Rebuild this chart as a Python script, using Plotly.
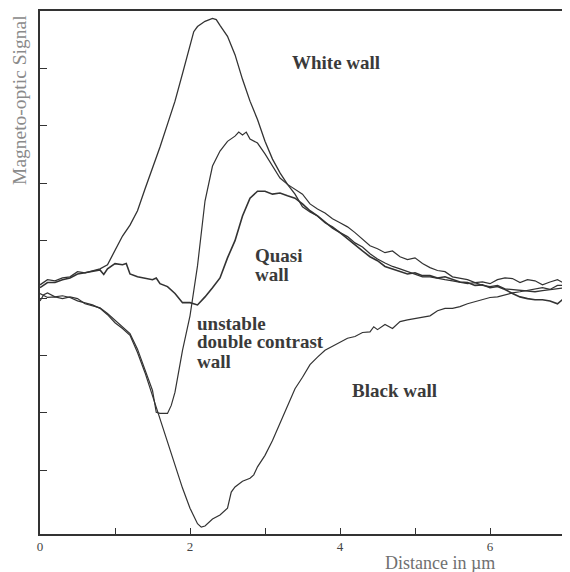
import plotly.graph_objects as go

# ---------------- data (x in µm, signal in arbitrary units) ----------------
white_x = [0.00,0.10,0.20,0.30,0.40,0.50,0.60,0.70,0.80,0.90,1.00,1.10,1.20,1.30,1.40,1.50,1.60,1.70,1.80,1.90,
           2.00,2.05,2.10,2.20,2.30,2.35,2.40,2.50,2.60,2.70,2.80,2.90,3.00,3.10,3.20,3.30,3.40,3.50,3.60,3.70,
           3.80,3.90,4.00,4.10,4.20,4.30,4.40,4.50,4.60,4.70,4.80,4.90,5.00,5.10,5.20,5.30,5.40,5.50,5.60,5.70,
           5.80,5.90,6.00,6.10,6.20,6.30,6.40,6.50,6.60,6.70,6.80,6.90,7.00]
white_y = [0.23,0.32,0.30,0.35,0.37,0.46,0.44,0.48,0.51,0.58,0.82,1.08,1.27,1.52,1.90,2.25,2.63,3.03,3.43,3.91,
           4.38,4.64,4.73,4.82,4.87,4.85,4.75,4.56,4.24,3.81,3.43,3.11,2.73,2.42,2.18,1.98,1.81,1.59,1.50,1.43,
           1.31,1.24,1.14,1.07,0.96,0.89,0.77,0.68,0.61,0.55,0.51,0.46,0.42,0.37,0.37,0.34,0.32,0.30,0.28,0.25,
           0.27,0.22,0.20,0.22,0.16,0.15,0.13,0.13,0.11,0.13,0.15,0.16,0.18]

quasi_x = [0.00,0.10,0.20,0.30,0.40,0.50,0.60,0.70,0.80,0.85,0.90,1.00,1.10,1.15,1.20,1.30,1.40,1.50,1.55,1.60,
           1.70,1.80,1.90,2.00,2.10,2.20,2.30,2.40,2.50,2.60,2.70,2.80,2.90,3.00,3.10,3.20,3.30,3.40,3.50,3.60,
           3.70,3.80,3.90,4.00,4.10,4.20,4.30,4.40,4.50,4.60,4.70,4.80,4.90,5.00,5.10,5.20,5.30,5.40,5.50,5.60,
           5.70,5.80,5.90,6.00,6.10,6.20,6.30,6.40,6.50,6.60,6.70,6.80,6.90,7.00]
quasi_y = [0.18,0.27,0.27,0.32,0.35,0.42,0.44,0.46,0.49,0.41,0.51,0.60,0.58,0.60,0.42,0.37,0.35,0.32,0.35,0.25,
           0.20,0.08,-0.08,-0.08,-0.12,0.02,0.18,0.35,0.70,1.00,1.43,1.74,1.86,1.86,1.81,1.83,1.78,1.74,1.64,1.52,
           1.43,1.33,1.22,1.14,1.03,0.93,0.82,0.72,0.65,0.55,0.51,0.46,0.42,0.44,0.39,0.39,0.35,0.37,0.32,0.28,
           0.27,0.22,0.23,0.18,0.20,0.15,0.08,0.02,-0.01,-0.03,-0.03,-0.05,-0.10,0.01]

unstable_x = [0.00,0.10,0.20,0.30,0.40,0.50,0.60,0.70,0.80,0.90,1.00,1.10,1.20,1.30,1.40,1.50,1.55,1.60,1.70,1.75,
              1.80,1.85,1.90,2.00,2.10,2.20,2.30,2.40,2.50,2.60,2.65,2.70,2.75,2.80,2.90,3.00,3.10,3.20,3.30,3.40,
              3.50,3.60,3.70,3.80,3.90,4.00,4.10,4.20,4.30,4.40,4.50,4.60,4.70,4.80,4.90,5.00,5.10,5.20,5.30,5.40,
              5.50,5.60,5.70,5.80,5.90,6.00,6.10,6.20,6.30,6.40,6.50,6.60,6.70,6.80,6.90,7.00]
unstable_y = [0.08,0.01,0.02,-0.01,0.02,-0.01,-0.10,-0.13,-0.17,-0.27,-0.39,-0.51,-0.62,-0.89,-1.26,-1.61,-1.99,-2.01,-2.01,-1.87,
              -1.64,-1.29,-0.91,-0.31,0.56,1.69,2.30,2.56,2.73,2.82,2.89,2.84,2.89,2.77,2.70,2.51,2.30,2.09,1.98,1.90,
              1.81,1.64,1.55,1.48,1.38,1.31,1.24,1.14,1.03,0.91,0.86,0.79,0.82,0.72,0.67,0.70,0.60,0.53,0.48,0.46,
              0.37,0.34,0.32,0.27,0.28,0.25,0.32,0.35,0.34,0.27,0.32,0.30,0.23,0.28,0.32,0.25]

black_x = [0.00,0.05,0.10,0.20,0.30,0.40,0.50,0.60,0.70,0.80,0.90,1.00,1.10,1.20,1.30,1.40,1.50,1.60,1.70,1.80,
           1.90,2.00,2.10,2.15,2.20,2.30,2.40,2.50,2.55,2.60,2.70,2.80,2.85,2.90,3.00,3.10,3.20,3.30,3.40,3.50,
           3.60,3.70,3.80,3.90,4.00,4.10,4.20,4.30,4.40,4.45,4.50,4.60,4.70,4.80,4.90,5.00,5.10,5.20,5.30,5.40,
           5.50,5.60,5.70,5.80,5.90,6.00,6.10,6.20,6.30,6.40,6.50,6.60,6.70,6.80,6.90,7.00]
black_y = [-0.05,0.06,0.09,0.02,0.04,0.01,-0.05,-0.08,-0.12,-0.18,-0.29,-0.43,-0.53,-0.65,-0.95,-1.30,-1.70,-2.13,-2.51,-2.91,
           -3.31,-3.66,-3.93,-3.99,-3.97,-3.85,-3.78,-3.66,-3.38,-3.29,-3.19,-3.14,-3.08,-2.94,-2.74,-2.48,-2.18,-1.89,-1.58,-1.38,
           -1.16,-1.03,-0.91,-0.84,-0.77,-0.70,-0.67,-0.60,-0.59,-0.50,-0.55,-0.46,-0.53,-0.41,-0.38,-0.36,-0.33,-0.31,-0.22,-0.18,
           -0.18,-0.15,-0.10,-0.06,-0.03,0.01,0.02,0.06,0.09,0.11,0.13,0.15,0.18,0.15,0.22,0.22]

x_tick_vals = [0, 1, 2, 3, 4, 5, 6, 7]
x_tick_text = ["0", "", "2", "", "4", "", "6", ""]
y_tick_vals = [-3, -2, -1, 0, 1, 2, 3, 4]

LINE = "#333333"
SERIF = "Liberation Serif, Times New Roman, serif"

fig = go.Figure()
for xs, ys, w in [(black_x, black_y, 1.2), (unstable_x, unstable_y, 1.2),
                  (quasi_x, quasi_y, 1.6), (white_x, white_y, 1.3)]:
    fig.add_trace(go.Scatter(x=xs, y=ys, mode="lines",
                             line=dict(color=LINE, width=w), showlegend=False,
                             hoverinfo="skip"))

labels = [
    ("White wall", 3.95, 4.10, "center"),
    ("Quasi", 2.84, 0.74, "left"),
    ("wall", 2.84, 0.41, "left"),
    ("unstable", 2.07, -0.44, "left"),
    ("double contrast", 2.07, -0.76, "left"),
    ("wall", 2.07, -1.10, "left"),
    ("Black wall", 4.72, -1.61, "center"),
]
for t, x, y, anc in labels:
    fig.add_annotation(x=x, y=y, xref="x", yref="y", text="<b>" + t + "</b>",
                       showarrow=False, xanchor=anc, yanchor="middle",
                       font=dict(family=SERIF, size=19, color="#3a3a3a"))

fig.add_annotation(x=-0.038, y=0.83, xref="paper", yref="paper",
                   text="Magneto-optic Signal", textangle=-90, showarrow=False,
                   xanchor="center", yanchor="middle",
                   font=dict(family=SERIF, size=19.5, color="#8a8a8a"))
fig.add_annotation(x=0.762, y=-0.055, xref="paper", yref="paper",
                   text="Distance in µm", showarrow=False,
                   xanchor="center", yanchor="middle",
                   font=dict(family=SERIF, size=18, color="#707070"))

# right dashed border
fig.add_shape(type="line", xref="paper", yref="paper", x0=1, x1=1, y0=0, y1=1,
              line=dict(color="#9a9a9a", width=1, dash="dot"))

fig.update_xaxes(range=[0, 7], tickvals=x_tick_vals, ticktext=x_tick_text,
                 ticks="inside", ticklen=6, tickwidth=1.3, tickcolor="#333",
                 showline=True, linecolor="#333", linewidth=1.5, mirror=True,
                 showgrid=False, zeroline=False,
                 tickfont=dict(family=SERIF, size=13, color="#444"))
fig.update_yaxes(range=[-4.11, 5.0], tickvals=y_tick_vals, showticklabels=False,
                 ticks="inside", ticklen=7, tickwidth=1.3, tickcolor="#333",
                 showline=True, linecolor="#333", linewidth=1.5,
                 showgrid=False, zeroline=False)

# page body has an 8px default margin, so the figure is offset by (8, 8)
fig.update_layout(width=562, height=564, margin=dict(l=32, r=5, t=1, b=38),
                  paper_bgcolor="white", plot_bgcolor="white")

fig.write_html("out.html")
